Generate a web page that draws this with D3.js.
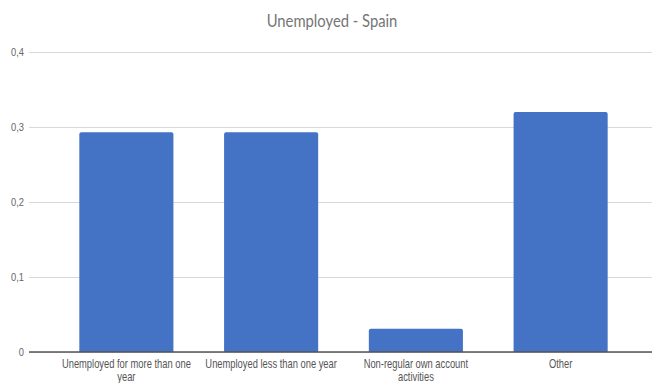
<!DOCTYPE html>
<html>
<head>
<meta charset="utf-8">
<script src="https://cdn.jsdelivr.net/npm/d3@7"></script>
<style>
  html, body { margin: 0; padding: 0; background: #fff; }
  svg { display: block; font-family: Lato, "Open Sans", sans-serif; }
</style>
</head>
<body>
<svg id="chart" width="654" height="383"></svg>
<script>
// Share of unemployed people in Spain by category
const categories = [
  ["Unemployed for more than one", "year"],
  ["Unemployed less than one year"],
  ["Non-regular own account", "activities"],
  ["Other"]
];
const values = [0.293, 0.293, 0.031, 0.32];
const yTicks = [0, 0.1, 0.2, 0.3, 0.4];
const yTickLabels = ["0", "0,1", "0,2", "0,3", "0,4"];
const title = "Unemployed - Spain";

const svg = d3.select("#chart");
const plot = { left: 29, right: 652, top: 52, bottom: 352 };

const x = d3.scaleBand()
  .domain(d3.range(values.length))
  .range([54, 633])
  .paddingInner(0.35)
  .paddingOuter(0.175);

const y = d3.scaleLinear().domain([0, 0.4]).range([plot.bottom, plot.top]);

// Title, horizontally condensed to a narrow UI face
svg.append("g")
  .attr("transform", "translate(332,27) scale(0.87,1)")
  .append("text")
  .attr("text-anchor", "middle")
  .attr("fill", "#757575")
  .attr("font-size", 17)
  .text(title);

// Gridlines and y tick labels
const yAxis = d3.axisLeft(y)
  .tickValues(yTicks)
  .tickSize(-(plot.right - plot.left))
  .tickPadding(5)
  .tickFormat((d, i) => yTickLabels[i]);

const gy = svg.append("g")
  .attr("transform", `translate(${plot.left},0)`)
  .call(yAxis);
gy.select(".domain").remove();
gy.selectAll(".tick line")
  .attr("stroke", "#d9d9d9")
  .attr("stroke-width", 1.2);
gy.selectAll(".tick text")
  .attr("fill", "#666")
  .attr("font-size", 11)
  .attr("x", -5 / 0.85)
  .attr("transform", "scale(0.85,1)");

// Bars with slightly rounded top corners
const r = 2;
svg.append("g")
  .selectAll("path")
  .data(values)
  .join("path")
  .attr("fill", "#4472c4")
  .attr("d", (d, i) => {
    const x0 = x(i), x1 = x(i) + x.bandwidth();
    const yt = y(d), yb = y(0);
    return `M${x0},${yb}V${yt + r}Q${x0},${yt} ${x0 + r},${yt}H${x1 - r}Q${x1},${yt} ${x1},${yt + r}V${yb}Z`;
  });

// Baseline
svg.append("line")
  .attr("x1", plot.left).attr("x2", plot.right)
  .attr("y1", y(0)).attr("y2", y(0))
  .attr("stroke", "#555")
  .attr("stroke-width", 1.3);

// Category labels (condensed via a horizontal scale)
const xAxis = d3.axisBottom(x).tickSize(0).tickFormat("");
const gx = svg.append("g")
  .attr("transform", `translate(0,${y(0)})`)
  .call(xAxis);
gx.select(".domain").remove();
gx.selectAll(".tick").each(function (i) {
  const g = d3.select(this).append("g").attr("transform", "scale(0.78,1)");
  categories[i].forEach((line, k) => {
    g.append("text")
      .attr("fill", "#555")
      .attr("font-size", 12)
      .attr("text-anchor", "middle")
      .attr("x", 0)
      .attr("y", 16 + k * 13)
      .text(line);
  });
});
</script>
</body>
</html>
